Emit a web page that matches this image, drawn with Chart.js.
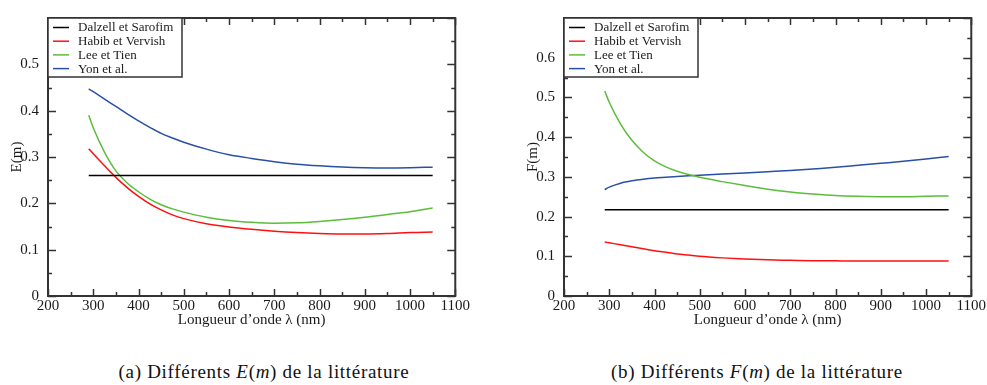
<!DOCTYPE html>
<html>
<head>
<meta charset="utf-8">
<script src="https://cdn.jsdelivr.net/npm/chart.js@4.4.1/dist/chart.umd.min.js"></script>
<style>
  html, body { margin: 0; padding: 0; background: #fff; width: 987px; height: 385px; overflow: hidden; }
  canvas { position: absolute; top: 0; }
  .cap { position: absolute; top: 360px; width: 440px; text-align: center; font-family: "Liberation Serif", serif; font-size: 19px; letter-spacing: 0.7px; color: #111; line-height: 24px; }
  .pre { position: absolute; left: -1000px; top: 0; font-family: "Liberation Serif"; font-size: 15px; }
</style>
</head>
<body>
<span class="pre">Dalzell 0.1 λ</span>
<canvas id="cE" width="471" height="340" style="left:0px"></canvas>
<canvas id="cF" width="471" height="340" style="left:516px"></canvas>
<div class="cap" style="left:44px">(a) Différents <i>E</i>(<i>m</i>) de la littérature</div>
<div class="cap" style="left:537px">(b) Différents <i>F</i>(<i>m</i>) de la littérature</div>
<script>
// ---- data ----
const wavelengths = [290,300,325,350,375,400,425,450,475,500,550,600,650,700,750,800,850,900,950,1000,1050];
const seriesNames = ["Dalzell et Sarofim", "Habib et Vervish", "Lee et Tien", "Yon et al."];

const E_dalzell = [0.26,0.26,0.26,0.26,0.26,0.26,0.26,0.26,0.26,0.26,0.26,0.26,0.26,0.26,0.26,0.26,0.26,0.26,0.26,0.26,0.26];
const E_habib   = [0.318,0.307,0.281,0.256,0.234,0.215,0.199,0.186,0.175,0.167,0.156,0.149,0.144,0.140,0.137,0.135,0.134,0.134,0.135,0.137,0.138];
const E_lee     = [0.390,0.363,0.310,0.270,0.244,0.225,0.209,0.197,0.188,0.181,0.170,0.163,0.159,0.157,0.158,0.161,0.165,0.170,0.176,0.182,0.190];
const E_yon     = [0.447,0.441,0.425,0.409,0.393,0.378,0.364,0.351,0.341,0.332,0.317,0.305,0.297,0.290,0.2845,0.281,0.2785,0.277,0.2765,0.277,0.278];

const F_dalzell = [0.217,0.217,0.217,0.217,0.217,0.217,0.217,0.217,0.217,0.217,0.217,0.217,0.217,0.217,0.217,0.217,0.217,0.217,0.217,0.217,0.217];
const F_habib   = [0.136,0.134,0.129,0.124,0.119,0.114,0.110,0.106,0.103,0.100,0.096,0.093,0.091,0.090,0.089,0.0885,0.088,0.088,0.088,0.088,0.088];
const F_lee     = [0.516,0.488,0.433,0.392,0.362,0.340,0.325,0.314,0.306,0.299,0.288,0.278,0.269,0.262,0.257,0.253,0.251,0.250,0.250,0.251,0.252];
const F_yon     = [0.268,0.274,0.284,0.290,0.294,0.297,0.299,0.301,0.3025,0.304,0.307,0.310,0.313,0.316,0.320,0.324,0.329,0.334,0.339,0.345,0.351];

const xTickLabels = [200,300,400,500,600,700,800,900,1000,1100];
const xTitle = "Longueur d\u2019onde \u03bb (nm)";

// ---- style ----
const colors = ["#000000", "#ff1010", "#5bbd3b", "#2a4fa6"];
const FONT = "'Liberation Serif', 'Times New Roman', serif";
const FS = 15;
const LEG_FS = 13;
const frameColor = "#333333";

function pts(ys) { return wavelengths.map((x, i) => ({x: x, y: ys[i]})); }

const framePlugin = {
  id: 'frame',
  afterDraw(chart) {
    const ctx = chart.ctx, a = chart.chartArea;
    const xs = chart.scales.x, ys = chart.scales.y;
    ctx.save();
    ctx.strokeStyle = frameColor;
    ctx.lineWidth = 1.5;
    ctx.beginPath();
    for (let v = xs.min; v <= xs.max + 1e-9; v += 50) {
      const major = Math.abs((v / 100) - Math.round(v / 100)) < 1e-6;
      const L = major ? 7 : 4;
      const px = Math.round(xs.getPixelForValue(v)) + 0.5;
      ctx.moveTo(px, a.bottom); ctx.lineTo(px, a.bottom - L);
      ctx.moveTo(px, a.top); ctx.lineTo(px, a.top + L);
    }
    const step = 0.05;
    const n = Math.round((ys.max - ys.min) / step);
    for (let i = 0; i <= n; i++) {
      const v = ys.min + i * step;
      const major = i % 2 === 0;
      const L = major ? 8 : 4;
      const py = Math.round(ys.getPixelForValue(v)) + 0.5;
      ctx.moveTo(a.left, py); ctx.lineTo(a.left + L, py);
      ctx.moveTo(a.right, py); ctx.lineTo(a.right - L, py);
    }
    ctx.stroke();
    ctx.lineWidth = 2;
    ctx.strokeRect(a.left, a.top, a.right - a.left, a.bottom - a.top);
    // legend box
    const bx = a.left, by = a.top, bw = 134, bh = 59;
    ctx.fillStyle = "#fff";
    ctx.fillRect(bx, by, bw, bh);
    ctx.lineWidth = 1.5;
    ctx.strokeRect(bx, by, bw, bh);
    ctx.font = LEG_FS + "px " + FONT;
    ctx.textBaseline = "middle";
    chart.data.datasets.forEach((ds, i) => {
      const cy = by + 9.5 + i * 13.7;
      ctx.strokeStyle = ds.borderColor;
      ctx.lineWidth = 1.5;
      ctx.beginPath();
      ctx.moveTo(bx + 5, cy); ctx.lineTo(bx + 21, cy);
      ctx.stroke();
      ctx.fillStyle = "#1a1a1a";
      ctx.fillText(ds.label, bx + 30, cy + 0.5);
    });
    ctx.restore();
  }
};

function makeChart(id, data, yMax, yTitle) {
  return new Chart(document.getElementById(id), {
    type: 'line',
    data: {
      datasets: data.map((ys, i) => ({
        label: seriesNames[i],
        data: pts(ys),
        borderColor: colors[i],
        backgroundColor: colors[i],
        borderWidth: 1.5,
        pointRadius: 0,
        fill: false,
        cubicInterpolationMode: 'monotone'
      }))
    },
    options: {
      responsive: false,
      devicePixelRatio: 1,
      animation: false,
      layout: { padding: { top: 10, right: 14, left: 0, bottom: 0 } },
      plugins: { legend: { display: false }, tooltip: { enabled: false } },
      scales: {
        x: {
          type: 'linear', min: 200, max: 1100,
          afterFit(s) { s.height = 44; },
          afterBuildTicks(s) { s.ticks = xTickLabels.map(v => ({value: v})); },
          grid: { display: false, drawTicks: false },
          border: { display: false },
          ticks: { padding: 1, color: "#1a1a1a", font: { family: FONT, size: FS }, maxRotation: 0, autoSkip: false, callback: v => String(v) },
          title: { display: true, text: xTitle, color: "#1a1a1a", font: { family: FONT, size: FS }, padding: { top: 0, bottom: 11 } }
        },
        y: {
          type: 'linear', min: 0, max: yMax,
          afterFit(s) { s.width = 48; },
          grid: { display: false, drawTicks: false },
          border: { display: false },
          ticks: { stepSize: 0.1, padding: 9, color: "#1a1a1a", font: { family: FONT, size: FS },
            callback: v => (Math.abs(v - yMax) < 1e-9 ? '' : (Math.round(v * 10) / 10).toString()) },
          title: { display: true, text: yTitle, color: "#1a1a1a", font: { family: FONT, size: FS }, padding: { top: 8, bottom: 0 } }
        }
      }
    },
    plugins: [framePlugin]
  });
}

const charts = [
  makeChart('cE', [E_dalzell, E_habib, E_lee, E_yon], 0.6, 'E(m)'),
  makeChart('cF', [F_dalzell, F_habib, F_lee, F_yon], 0.7, 'F(m)')
];
if (document.fonts) {
  document.fonts.load(FS + "px 'Liberation Serif'").then(() => charts.forEach(c => c.update('none')));
  document.fonts.ready.then(() => charts.forEach(c => c.update('none')));
}
</script>
</body>
</html>
